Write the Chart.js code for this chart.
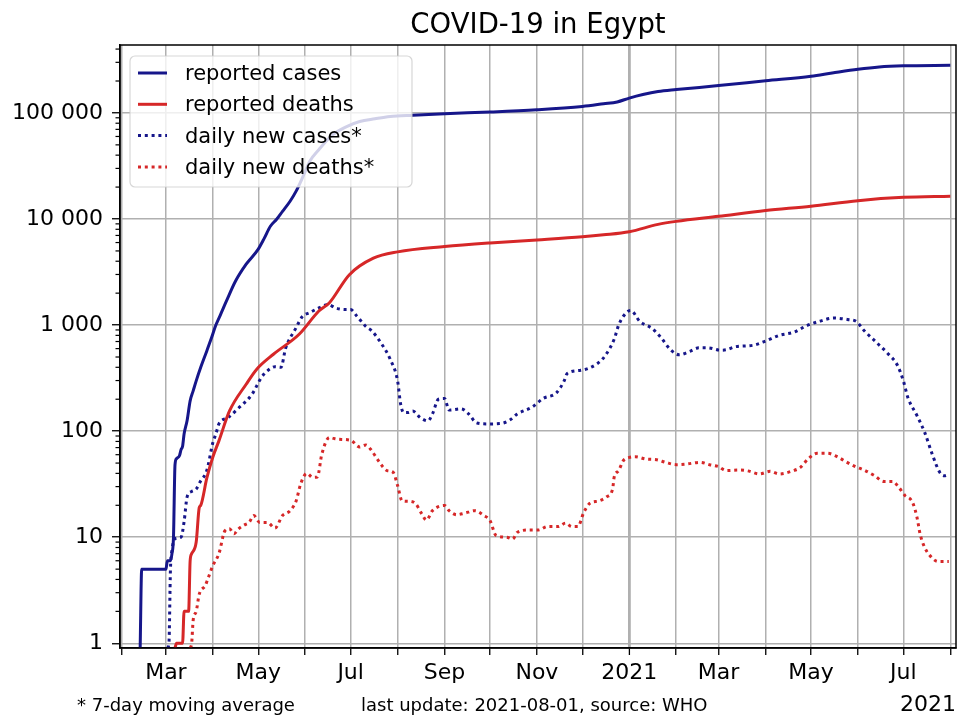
<!DOCTYPE html>
<html lang="en">
<head>
<meta charset="UTF-8">
<title>COVID-19 in Egypt</title>
<script src="https://cdn.jsdelivr.net/npm/chart.js"></script>
<style>
  html, body { margin: 0; padding: 0; background: #fff; }
  #chartCanvas { display: block; }
</style>
</head>
<body>
<canvas id="chartCanvas" width="958" height="715"></canvas>
<script>
// values (log scale), WHO data up to 2021-08-01
const casesDates = ['2020-02-13','2020-02-14','2020-03-01','2020-03-02','2020-03-04','2020-03-05','2020-03-06','2020-03-07','2020-03-08','2020-03-10','2020-03-11','2020-03-12','2020-03-13','2020-03-15','2020-03-17','2020-03-19','2020-03-21','2020-03-24','2020-03-28','2020-03-31','2020-04-03','2020-04-06','2020-04-10','2020-04-16','2020-04-23','2020-05-01','2020-05-05','2020-05-09','2020-05-13','2020-05-17','2020-05-22','2020-05-26','2020-05-31','2020-06-04','2020-06-10','2020-06-19','2020-06-28','2020-07-07','2020-07-17','2020-07-27','2020-08-11','2020-09-01','2020-10-01','2020-11-01','2020-12-01','2020-12-15','2020-12-24','2021-01-01','2021-01-10','2021-01-20','2021-02-01','2021-03-01','2021-04-01','2021-05-01','2021-05-15','2021-06-01','2021-06-15','2021-07-01','2021-08-01'];
const casesValues = [0, 5, 5, 6, 6, 7, 10, 48, 55, 59, 67, 72, 94, 126, 193, 240, 298, 400, 571, 750, 1000, 1250, 1690, 2600, 3750, 5200, 6600, 8550, 9900, 11800, 14700, 18300, 26000, 35000, 45000, 62000, 74000, 83000, 88000, 92500, 95300, 98500, 102000, 107000, 115000, 122000, 127000, 138000, 149000, 159000, 166000, 181000, 201000, 222000, 238000, 258000, 271000, 278000, 281000];

const deathsDates = ['2020-03-07','2020-03-08','2020-03-12','2020-03-13','2020-03-16','2020-03-17','2020-03-18','2020-03-21','2020-03-23','2020-03-24','2020-03-28','2020-04-01','2020-04-05','2020-04-12','2020-04-23','2020-04-30','2020-05-11','2020-05-28','2020-06-10','2020-06-17','2020-06-30','2020-07-16','2020-08-01','2020-09-01','2020-10-01','2020-11-01','2020-12-01','2020-12-15','2021-01-01','2021-01-20','2021-02-01','2021-03-01','2021-04-01','2021-05-01','2021-06-01','2021-07-01','2021-08-01'];
const deathsValues = [0, 1, 1, 2, 2, 6, 7, 9, 19, 20, 36, 57, 81, 155, 277, 384, 531, 819, 1358, 1625, 2970, 4270, 4900, 5500, 5950, 6350, 6800, 7100, 7600, 8900, 9500, 10600, 12000, 13200, 14900, 16000, 16400];

const newCasesDates = ['2020-03-02','2020-03-03','2020-03-04','2020-03-05','2020-03-07','2020-03-11','2020-03-13','2020-03-15','2020-03-18','2020-03-21','2020-03-24','2020-03-28','2020-04-01','2020-04-03','2020-04-05','2020-04-11','2020-04-17','2020-04-27','2020-05-03','2020-05-07','2020-05-12','2020-05-16','2020-05-19','2020-05-26','2020-05-30','2020-06-04','2020-06-10','2020-06-16','2020-06-21','2020-06-27','2020-07-01','2020-07-05','2020-07-11','2020-07-15','2020-07-21','2020-07-27','2020-08-01','2020-08-03','2020-08-05','2020-08-08','2020-08-11','2020-08-16','2020-08-21','2020-08-24','2020-08-28','2020-09-01','2020-09-04','2020-09-12','2020-09-17','2020-09-22','2020-09-29','2020-10-08','2020-10-14','2020-10-19','2020-10-29','2020-11-05','2020-11-14','2020-11-19','2020-11-21','2020-11-30','2020-12-11','2020-12-16','2020-12-22','2020-12-25','2020-12-30','2021-01-02','2021-01-08','2021-01-16','2021-01-22','2021-01-28','2021-02-03','2021-02-10','2021-02-16','2021-02-22','2021-03-02','2021-03-06','2021-03-12','2021-03-24','2021-04-01','2021-04-10','2021-04-20','2021-04-28','2021-05-07','2021-05-16','2021-05-25','2021-05-31','2021-06-05','2021-06-14','2021-06-21','2021-06-27','2021-07-01','2021-07-04','2021-07-10','2021-07-15','2021-07-20','2021-07-25','2021-07-28','2021-07-31'];
const newCasesValues = [0, 1, 5, 7.5, 9.7, 10, 14, 24, 27, 28.5, 34, 42.5, 78, 94, 117, 134, 160, 224, 320, 370, 405, 400, 600, 945, 1200, 1310, 1450, 1560, 1450, 1400, 1400, 1220, 970, 880, 680, 480, 298, 180, 150, 150, 155, 134, 125, 145, 200, 203, 158, 162, 145, 120, 117, 118, 127, 145, 169, 203, 231, 298, 350, 375, 434, 513, 735, 1000, 1310, 1370, 1080, 930, 760, 590, 525, 565, 610, 610, 580, 585, 625, 646, 707, 800, 860, 985, 1090, 1165, 1130, 1080, 890, 670, 535, 420, 298, 207, 140, 98, 61, 41, 38, 39];

const newDeathsDates = ['2020-03-17','2020-03-18','2020-03-19','2020-03-21','2020-03-23','2020-03-27','2020-03-28','2020-04-01','2020-04-05','2020-04-09','2020-04-12','2020-04-15','2020-04-18','2020-04-21','2020-04-25','2020-04-28','2020-05-02','2020-05-07','2020-05-12','2020-05-17','2020-05-22','2020-05-26','2020-05-29','2020-06-02','2020-06-06','2020-06-09','2020-06-12','2020-06-17','2020-06-22','2020-07-01','2020-07-07','2020-07-11','2020-07-14','2020-07-20','2020-07-25','2020-07-29','2020-08-01','2020-08-04','2020-08-09','2020-08-13','2020-08-17','2020-08-20','2020-08-24','2020-09-01','2020-09-04','2020-09-09','2020-09-14','2020-09-21','2020-09-27','2020-10-01','2020-10-05','2020-10-12','2020-10-16','2020-10-19','2020-10-27','2020-11-02','2020-11-08','2020-11-15','2020-11-20','2020-11-24','2020-11-28','2020-12-02','2020-12-06','2020-12-12','2020-12-17','2020-12-21','2020-12-22','2020-12-25','2020-12-28','2021-01-01','2021-01-05','2021-01-12','2021-01-19','2021-01-25','2021-02-01','2021-02-07','2021-02-17','2021-02-23','2021-03-01','2021-03-06','2021-03-14','2021-03-20','2021-03-28','2021-04-04','2021-04-10','2021-04-19','2021-04-24','2021-04-29','2021-05-05','2021-05-12','2021-05-18','2021-05-24','2021-05-30','2021-06-05','2021-06-12','2021-06-18','2021-06-24','2021-06-28','2021-07-02','2021-07-07','2021-07-10','2021-07-12','2021-07-15','2021-07-19','2021-07-24','2021-07-31'];
const newDeathsValues = [0, 1, 1.65, 2, 2.9, 3.5, 3.8, 5.4, 7, 11.5, 12, 10.8, 12, 12.9, 13.8, 16, 13.8, 13.8, 12.2, 16, 17.8, 22, 31.8, 40, 36.7, 37, 61, 87, 84, 82, 71, 74, 68, 51, 42.5, 41, 30.7, 22, 21.8, 20.6, 16.6, 14.5, 17.8, 19.9, 17.8, 16.3, 16.8, 17.8, 16, 14.4, 10.4, 10, 9.6, 11.1, 11.7, 11.7, 12.6, 12.6, 13.6, 12.6, 12.6, 17.2, 20.9, 22, 24, 28.5, 36.7, 42.5, 52.6, 56.6, 57.5, 54.6, 53.8, 50.8, 48.3, 48.8, 50.8, 48.3, 46.3, 42.5, 43, 42.3, 39.5, 41.8, 39.5, 42.3, 45.5, 54.6, 61.8, 61.8, 57.7, 51.6, 46.5, 43, 38, 33.6, 33.6, 29.5, 24.8, 21.4, 15.4, 10.8, 8.05, 6.6, 5.9, 5.9];

const monthTickDates = ['2020-02-01','2020-03-01','2020-04-01','2020-05-01','2020-06-01','2020-07-01','2020-08-01','2020-09-01','2020-10-01','2020-11-01','2020-12-01','2021-01-01','2021-02-01','2021-03-01','2021-04-01','2021-05-01','2021-06-01','2021-07-01','2021-08-01'];
const monthTickLabels = ['', 'Mar', '', 'May', '', 'Jul', '', 'Sep', '', 'Nov', '', '2021', '', 'Mar', '', 'May', '', 'Jul', ''];
const yTickValues = [1, 10, 100, 1000, 10000, 100000];

const Y_MIN = 0.903;
const Y_MAX = 437000;
const BLUE = '#16168a';
const RED = '#d62728';
const FONT = 'DejaVu Sans';

function dayNum(s) {
    const p = s.split('-').map(Number);
    return (Date.UTC(p[0], p[1] - 1, p[2]) - Date.UTC(2020, 0, 1)) / 86400000;
}
// a zero can't sit on a log axis: like matplotlib, drop it to the bottom edge
function toPoints(dates, values) {
    return dates.map((d, i) => ({ x: dayNum(d), y: values[i] > 0 ? values[i] : Y_MIN }));
}
function spaced(v) {
    return String(v).replace(/\B(?=(\d{3})+(?!\d))/g, ' ');
}

// small log ticks between the decades
const minorTicks = {
    id: 'minorTicks',
    afterDraw(chart) {
        const y = chart.scales.y, c = chart.ctx;
        c.save();
        c.strokeStyle = '#000';
        c.lineWidth = 1.2;
        for (let e = -1; e <= 5; e++) {
            for (let m = 2; m <= 9; m++) {
                const v = m * Math.pow(10, e);
                if (v <= y.min || v >= y.max) continue;
                const py = y.getPixelForValue(v);
                c.beginPath();
                c.moveTo(y.right - 4.5, py);
                c.lineTo(y.right, py);
                c.stroke();
            }
        }
        c.restore();
    }
};

// box round the plot
const frame = {
    id: 'frame',
    afterDraw(chart) {
        const a = chart.chartArea, c = chart.ctx;
        c.save();
        c.strokeStyle = '#000';
        c.lineWidth = 1.5;
        c.strokeRect(a.left, a.top, a.right - a.left, a.bottom - a.top);
        c.restore();
    }
};

// legend drawn inside the plot, over the lines
const insideLegend = {
    id: 'insideLegend',
    afterDatasetsDraw(chart) {
        const c = chart.ctx;
        const x = 130, y = 56, w = 282, h = 131, r = 5;
        c.save();
        c.beginPath();
        c.roundRect(x, y, w, h, r);
        c.fillStyle = 'rgba(255,255,255,0.8)';
        c.fill();
        c.strokeStyle = 'rgba(204,204,204,0.8)';
        c.lineWidth = 1.2;
        c.stroke();
        c.font = '21px "' + FONT + '"';
        c.textBaseline = 'alphabetic';
        c.fillStyle = '#000';
        chart.data.datasets.forEach((ds, i) => {
            const base = 80 + i * 31.3;
            c.beginPath();
            c.setLineDash(ds.borderDash || []);
            c.lineCap = 'butt';
            c.strokeStyle = ds.borderColor;
            c.lineWidth = ds.borderWidth;
            c.moveTo(138, base - 7);
            c.lineTo(167, base - 7);
            c.stroke();
            c.setLineDash([]);
            c.fillText(ds.label, 185, base);
        });
        c.restore();
    }
};

// title centred on the plot, notes under the axis
const texts = {
    id: 'texts',
    afterDraw(chart) {
        const c = chart.ctx, a = chart.chartArea;
        c.save();
        c.fillStyle = '#000';
        c.textBaseline = 'alphabetic';
        c.textAlign = 'center';
        c.font = '27.5px "' + FONT + '"';
        c.fillText('COVID-19 in Egypt', (a.left + a.right) / 2, 32.5);
        c.font = '18px "' + FONT + '"';
        c.textAlign = 'left';
        c.fillText('* 7-day moving average', 77, 711);
        c.fillText('last update: 2021-08-01, source: WHO', 361, 711);
        c.font = '22px "' + FONT + '"';
        c.textAlign = 'right';
        c.fillText('2021', 956, 710.5);
        c.restore();
    }
};

const ctx = document.getElementById('chartCanvas').getContext('2d');
new Chart(ctx, {
    type: 'line',
    data: {
        datasets: [
            { label: 'reported cases', data: toPoints(casesDates, casesValues), borderColor: BLUE, borderWidth: 3 },
            { label: 'reported deaths', data: toPoints(deathsDates, deathsValues), borderColor: RED, borderWidth: 3 },
            { label: 'daily new cases*', data: toPoints(newCasesDates, newCasesValues), borderColor: BLUE, borderWidth: 3, borderDash: [3, 3.8] },
            { label: 'daily new deaths*', data: toPoints(newDeathsDates, newDeathsValues), borderColor: RED, borderWidth: 3, borderDash: [3, 3.8] }
        ]
    },
    options: {
        responsive: false,
        animation: false,
        layout: { padding: { top: 45, right: 2 } },
        elements: {
            point: { radius: 0 },
            line: { cubicInterpolationMode: 'monotone', borderCapStyle: 'butt', fill: false }
        },
        datasets: { line: { clip: 0 } },
        plugins: {
            legend: { display: false },
            tooltip: { enabled: false },
            title: { display: false }
        },
        scales: {
            x: {
                type: 'linear',
                min: 29.68,
                max: 581.76,
                afterBuildTicks: s => { s.ticks = monthTickDates.map(d => ({ value: dayNum(d) })); },
                afterFit: s => { s.height = 67; s.paddingLeft = 0; s.paddingRight = 0; },
                ticks: {
                    autoSkip: false,
                    maxRotation: 0,
                    padding: 5,
                    color: '#000',
                    font: { family: FONT, size: 22 },
                    callback: (v, i) => monthTickLabels[i]
                },
                grid: {
                    color: '#b0b0b0',
                    lineWidth: c => (c.index === 11 ? 2.8 : 1.5),
                    tickColor: '#000',
                    tickWidth: 1.3,
                    tickLength: 7
                },
                border: { color: '#000', width: 1.5 }
            },
            y: {
                type: 'logarithmic',
                min: Y_MIN,
                max: Y_MAX,
                afterBuildTicks: s => { s.ticks = yTickValues.map(v => ({ value: v })); },
                afterFit: s => { s.width = 120; s.paddingTop = 0; s.paddingBottom = 0; },
                ticks: {
                    padding: 9,
                    color: '#000',
                    font: { family: FONT, size: 22 },
                    callback: v => spaced(v)
                },
                grid: {
                    color: '#b0b0b0',
                    lineWidth: 1.5,
                    tickColor: '#000',
                    tickWidth: 1.3,
                    tickLength: 8
                },
                border: { color: '#000', width: 1.5 }
            }
        }
    },
    plugins: [insideLegend, minorTicks, frame, texts]
});
</script>
</body>
</html>
